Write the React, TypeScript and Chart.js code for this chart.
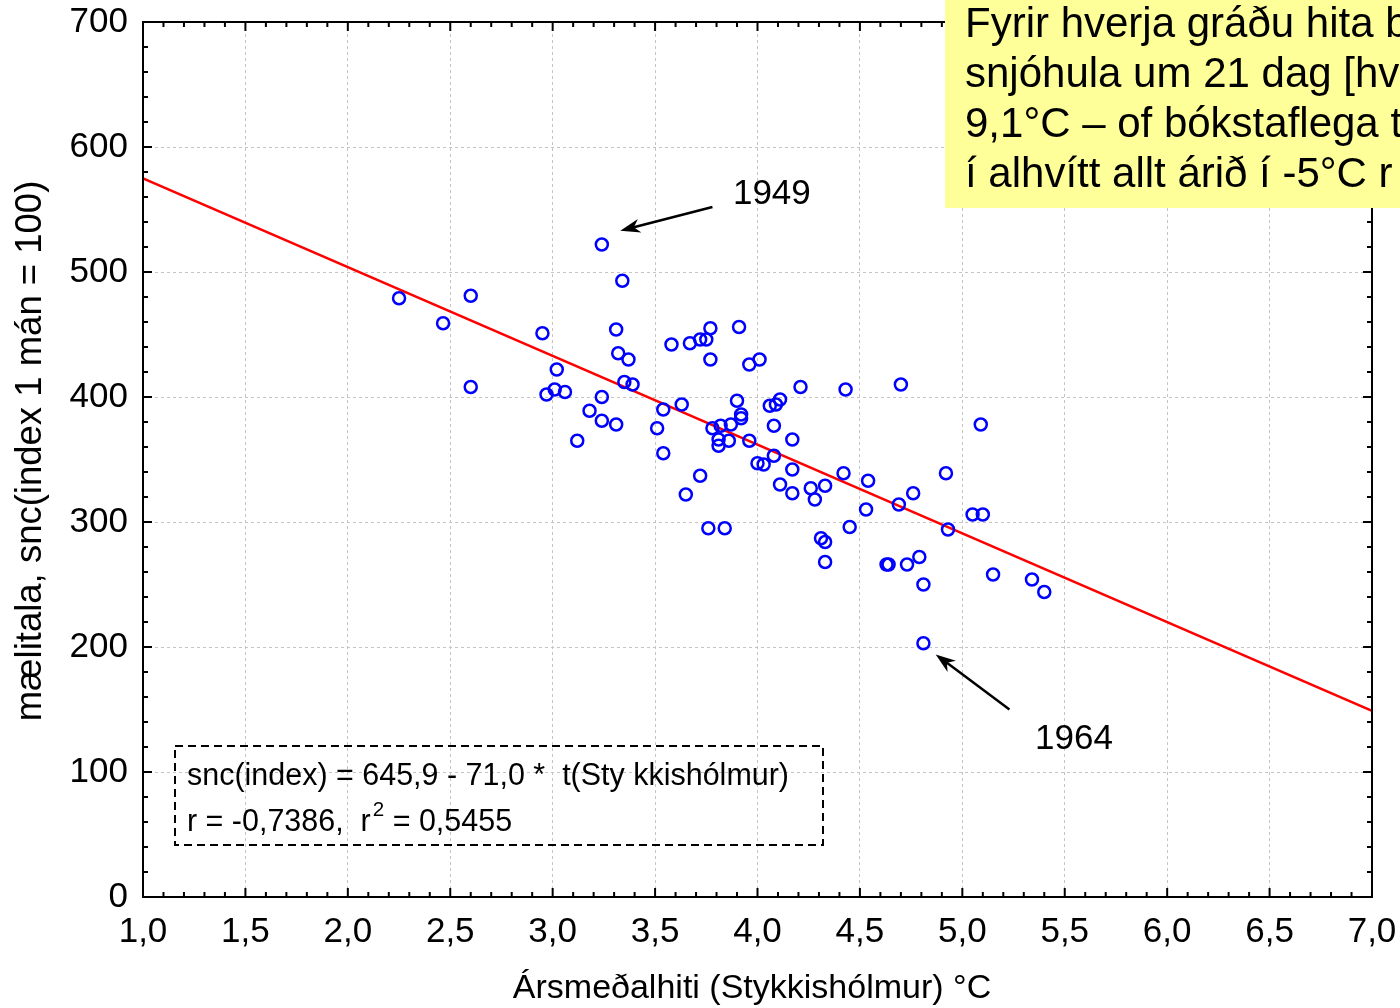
import React, { useEffect, useRef } from "react";
import { Chart, registerables } from "chart.js";

Chart.register(...registerables);

// Ársmeðalhiti (Stykkishólmur) °C
const temps = [
  2.25, 2.465, 2.6, 2.6, 2.95, 3.02, 2.97, 3.01, 3.06, 3.12,
  3.18, 3.24, 3.24, 3.31, 3.24, 3.34, 3.31, 3.32, 3.37, 3.35,
  3.39, 3.51, 3.54, 3.54, 3.58, 3.63, 3.65, 3.67, 3.72, 3.75,
  3.72, 3.77, 3.77, 3.76, 3.84, 3.78, 3.82, 3.81, 3.81, 3.86,
  3.87, 3.9, 3.92, 3.92, 3.91, 3.96, 3.96, 4.0, 4.01, 4.03,
  4.06, 4.08, 4.09, 4.11, 4.08, 4.11, 4.17, 4.17, 4.17, 4.21,
  4.26, 4.28, 4.31, 4.33, 4.33, 4.33, 4.42, 4.43, 4.45, 4.54,
  4.53, 4.63, 4.64, 4.69, 4.7, 4.73, 4.76, 4.79, 4.81, 4.81,
  4.92, 4.93, 5.05, 5.1, 5.09, 5.15, 5.34, 5.4,
];
// mælitala snc(index)
const sncValues = [
  479, 459, 481, 408, 451, 422, 402, 406, 404, 365,
  389, 400, 381, 378, 522, 493, 454, 435, 430, 412,
  410, 375, 390, 355, 442, 394, 322, 443, 446, 446,
  337, 430, 455, 295, 295, 375, 377, 366, 361, 365,
  378, 397, 386, 383, 456, 426, 365, 347, 430, 346,
  393, 377, 394, 398, 353, 330, 366, 342, 323, 408,
  327, 318, 287, 284, 329, 268, 339, 406, 296, 333,
  310, 266, 266, 314, 410, 266, 323, 272, 250, 203,
  339, 294, 306, 306, 378, 258, 254, 244,
];

const regIntercept = 645.9;
const regSlope = -71.0;
const regXRange = [1, 7];

const xMin = 1, xMax = 7, xStep = 0.5, xMinor = 0.1;
const yMin = 0, yMax = 700, yStep = 100, yMinor = 20;

const xTitle = "Ársmeðalhiti (Stykkishólmur) °C";
const yTitle = "mælitala, snc(index 1 mán = 100)";

const eqLine1 = "snc(index) = 645,9 - 71,0 *  t(Sty kkishólmur)";
const eqLine2a = "r = -0,7386,  r";
const eqLine2sup = "2";
const eqLine2b = " = 0,5455";

const noteLines = [
  "Fyrir hverja gráðu hita b",
  "snjóhula um 21 dag [hv",
  "9,1°C – of bókstaflega t",
  "í alhvítt allt árið í -5°C r",
];

const callouts = [
  { label: "1949", lx: 3.88, ly: 562, from: [3.78, 552], to: [3.33, 533] },
  { label: "1964", lx: 5.355, ly: 126, from: [5.23, 150], to: [4.87, 194] },
];

const FONT = "'Liberation Sans', Arial, sans-serif";

function arrow(ctx: CanvasRenderingContext2D, x1: number, y1: number, x2: number, y2: number) {
  const ang = Math.atan2(y2 - y1, x2 - x1);
  const L = 20, W = 7, notch = 6;
  ctx.beginPath();
  ctx.moveTo(x1, y1);
  ctx.lineTo(x2 - Math.cos(ang) * (L - notch), y2 - Math.sin(ang) * (L - notch));
  ctx.stroke();
  const bx = x2 - Math.cos(ang) * L, by = y2 - Math.sin(ang) * L;
  const nx = -Math.sin(ang), ny = Math.cos(ang);
  ctx.beginPath();
  ctx.moveTo(x2, y2);
  ctx.lineTo(bx + nx * W, by + ny * W);
  ctx.lineTo(x2 - Math.cos(ang) * (L - notch), y2 - Math.sin(ang) * (L - notch));
  ctx.lineTo(bx - nx * W, by - ny * W);
  ctx.closePath();
  ctx.fill();
}

const overlayPlugin = {
  id: "overlay",
  afterDraw(chart: any) {
    const { ctx, chartArea: a, scales } = chart;
    const xs = scales.x, ys = scales.y;
    ctx.save();
    ctx.strokeStyle = "#000";
    ctx.fillStyle = "#000";
    ctx.lineWidth = 2;
    ctx.setLineDash([]);
    ctx.strokeRect(a.left, a.top, a.right - a.left, a.bottom - a.top);
    // inward ticks
    const nX = Math.round((xMax - xMin) / xMinor);
    const perX = Math.round(xStep / xMinor);
    ctx.beginPath();
    for (let i = 0; i <= nX; i++) {
      const px = xs.getPixelForValue(xMin + i * xMinor);
      const len = i % perX === 0 ? 9 : 5;
      ctx.moveTo(px, a.bottom); ctx.lineTo(px, a.bottom - len);
      ctx.moveTo(px, a.top); ctx.lineTo(px, a.top + len);
    }
    const nY = Math.round((yMax - yMin) / yMinor);
    const perY = Math.round(yStep / yMinor);
    for (let i = 0; i <= nY; i++) {
      const py = ys.getPixelForValue(yMin + i * yMinor);
      const len = i % perY === 0 ? 9 : 5;
      ctx.moveTo(a.left, py); ctx.lineTo(a.left + len, py);
      ctx.moveTo(a.right, py); ctx.lineTo(a.right - len, py);
    }
    ctx.stroke();

    // axis titles
    ctx.textAlign = "center";
    ctx.textBaseline = "middle";
    ctx.font = `36.5px ${FONT}`;
    ctx.save();
    ctx.translate(31, 451);
    ctx.rotate(-Math.PI / 2);
    ctx.fillText(yTitle, 0, 0);
    ctx.restore();
    ctx.font = `34px ${FONT}`;
    ctx.fillText(xTitle, 752, 989);

    // regression equation box
    const bx0 = 175, by0 = 746, bx1 = 823, by1 = 845;
    ctx.setLineDash([8, 5]);
    ctx.lineWidth = 2;
    ctx.strokeRect(bx0, by0, bx1 - bx0, by1 - by0);
    ctx.setLineDash([]);
    ctx.textBaseline = "middle";
    ctx.textAlign = "left";
    ctx.font = `31px ${FONT}`;
    const w1 = ctx.measureText(eqLine1).width;
    const sx = 602 / w1;
    ctx.save();
    ctx.translate(bx0 + 12, 0);
    ctx.scale(sx, 1);
    ctx.fillText(eqLine1, 0, 776);
    ctx.fillText(eqLine2a, 0, 822);
    let off = ctx.measureText(eqLine2a).width + 2;
    ctx.font = `21px ${FONT}`;
    ctx.fillText(eqLine2sup, off, 810);
    off += ctx.measureText(eqLine2sup).width;
    ctx.font = `31px ${FONT}`;
    ctx.fillText(eqLine2b, off, 822);
    ctx.restore();

    // callouts
    ctx.lineWidth = 2.5;
    ctx.font = `35px ${FONT}`;
    for (const c of callouts) {
      arrow(ctx, xs.getPixelForValue(c.from[0]), ys.getPixelForValue(c.from[1]),
        xs.getPixelForValue(c.to[0]), ys.getPixelForValue(c.to[1]));
      ctx.fillText(c.label, xs.getPixelForValue(c.lx), ys.getPixelForValue(c.ly));
    }

    // yellow note
    ctx.fillStyle = "#ffff99";
    ctx.fillRect(945, 0, chart.width - 945, 208);
    ctx.fillStyle = "#000";
    ctx.font = `42px ${FONT}`;
    ctx.textBaseline = "alphabetic";
    noteLines.forEach((t, i) => ctx.fillText(t, 965, 37 + i * 50));
    ctx.restore();
  },
};

function zeroPad(s: any) {
  s.paddingTop = 0;
  s.paddingBottom = 0;
  s.paddingLeft = 0;
  s.paddingRight = 0;
}

export default function App() {
  const ref = useRef<HTMLCanvasElement | null>(null);
  useEffect(() => {
    if (!ref.current) return;
    const points = temps.map((t, i) => ({ x: t, y: sncValues[i] }));
    const regLine = regXRange.map((t) => ({ x: t, y: regIntercept + regSlope * t }));
    const chart = new Chart(ref.current, {
      type: "scatter",
      data: {
        datasets: [
          {
            data: points,
            pointStyle: "circle",
            pointRadius: 6,
            pointBorderWidth: 2.5,
            borderColor: "#0000ff",
            backgroundColor: "rgba(0,0,0,0)",
            order: 0,
          } as any,
          {
            type: "line",
            data: regLine,
            borderColor: "#ff0000",
            borderWidth: 2.5,
            pointRadius: 0,
            fill: false,
            order: 1,
          } as any,
        ],
      },
      options: {
        responsive: false,
        animation: false,
        events: [],
        layout: { padding: { top: 22, right: 28, left: 0, bottom: 0 } },
        plugins: { legend: { display: false }, tooltip: { enabled: false } },
        scales: {
          x: {
            type: "linear",
            min: xMin,
            max: xMax,
            afterFit: (s: any) => { s.height = 111; zeroPad(s); },
            ticks: {
              stepSize: xStep,
              color: "#000",
              padding: 14,
              maxRotation: 0,
              font: { family: FONT, size: 35 },
              callback: (v: any) => Number(v).toFixed(1).replace(".", ","),
            },
            grid: { color: "#c4c4c4", lineWidth: 1, drawTicks: false },
            border: { display: false, dash: [3, 3] },
          },
          y: {
            type: "linear",
            min: yMin,
            max: yMax,
            afterFit: (s: any) => { s.width = 143; zeroPad(s); },
            ticks: {
              stepSize: yStep,
              color: "#000",
              padding: 15,
              font: { family: FONT, size: 35 },
            },
            grid: { color: "#c4c4c4", lineWidth: 1, drawTicks: false },
            border: { display: false, dash: [3, 3] },
          },
        },
      },
      plugins: [overlayPlugin],
    });
    return () => chart.destroy();
  }, []);
  return (
    <div style={{ position: "fixed", left: 0, top: 0, width: 1400, height: 1008, background: "#fff" }}>
      <canvas ref={ref} width={1400} height={1008} style={{ display: "block" }} />
    </div>
  );
}
